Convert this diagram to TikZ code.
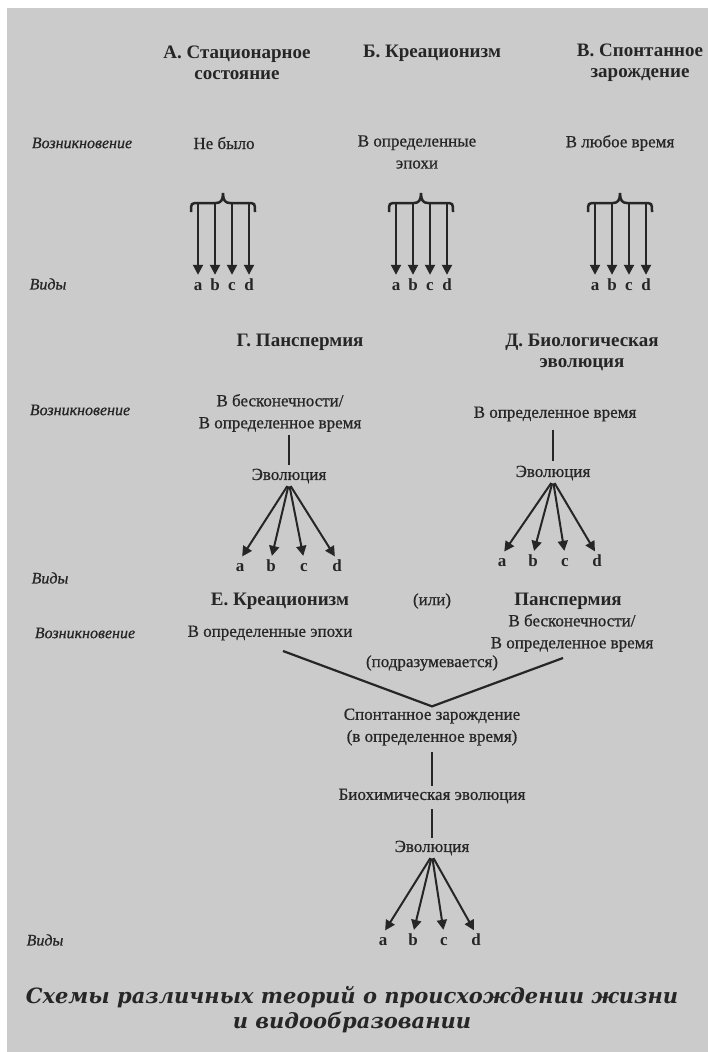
\documentclass[tikz,border=0pt]{standalone}
\usepackage{fontspec}
\setmainfont{Liberation Serif}
\newfontfamily\mymedfam[FakeBold=0.7]{Liberation Serif}
\newfontfamily\mycapfam{DejaVu Serif}
\usetikzlibrary{arrows.meta}
\definecolor{paper}{RGB}{203,203,203}
\definecolor{ink}{RGB}{38,38,38}
\newcommand\myhdr{\fontsize{19}{21}\selectfont\bfseries}
\newcommand\mytxt{\mymedfam\fontsize{17}{22}\selectfont}
\newcommand\myit{\mymedfam\fontsize{16}{18}\selectfont\itshape}
\newcommand\mylab{\fontsize{17}{18}\selectfont\bfseries}
\newcommand\mycap{\mycapfam\fontsize{21}{25}\selectfont\bfseries\itshape}
\tikzset{
  hdr/.style={font=\myhdr, text=ink, align=center, inner sep=0pt},
  txt/.style={font=\mytxt, text=ink, align=center, inner sep=0pt},
  itl/.style={font=\myit, text=ink, inner sep=0pt},
  lab/.style={font=\mylab, text=ink, inner sep=0pt, text height=11pt, text depth=0pt, anchor=base},
  arr/.style={draw=ink, line width=2pt, -{Triangle[length=10pt,width=10pt]}},
  ln/.style={draw=ink, line width=2.2pt},
  captxt/.style={font=\mycap, text=ink, align=center, inner sep=0pt},
}
\newcommand\mybrace[2]{%
  \draw[ln, line width=2.5pt] (#1-32,212) .. controls (#1-32,203) .. (#1-24,203) -- (#1-7,203)
     .. controls (#1-2,203) and (#1,200) .. (#1,193)
     .. controls (#1,200) and (#1+2,203) .. (#1+7,203) -- (#1+24,203)
     .. controls (#1+32,203) .. (#1+32,212);
  \node[lab] (#2a) at (#1-25,290) {a};
  \node[lab] (#2b) at (#1-8,290) {b};
  \node[lab] (#2c) at (#1+9,290) {c};
  \node[lab] (#2d) at (#1+26,290) {d};
  \coordinate (#2ta) at (#1-25,203);
  \coordinate (#2tb) at (#1-8,203);
  \coordinate (#2tc) at (#1+9,203);
  \coordinate (#2td) at (#1+26,203);
  \foreach \k in {a,b,c,d} {\draw[arr, shorten >=4pt] (#2t\k) -- (#2\k.north);}
}
\begin{document}
\begin{tikzpicture}[x=1pt,y=-1pt]
\useasboundingbox (0,0) rectangle (708,1052);
\fill[white] (0,0) rectangle (708,1052);
\fill[paper] (7,8) rectangle (708,1052);

% ---- top row ----
\node[hdr] (hA) at (237,63) {А. Стационарное\\состояние};
\node[hdr] (hB) at (432,53) {Б. Креационизм};
\node[hdr] (hC) at (640,63) {В. Спонтанное\\зарождение};

\node[itl] (v1) at (82,143) {Возникновение};
\node[txt] (oA) at (224,143) {Не было};
\node[txt] (oB) at (417,152) {В определенные\\эпохи};
\node[txt] (oC) at (620,143) {В любое время};

\mybrace{223}{A}
\mybrace{421}{B}
\mybrace{620}{C}

\node[itl] (s1) at (48,284) {Виды};

% ---- middle row ----
\node[hdr] (hD) at (300,342) {Г. Панспермия};
\node[hdr] (hE) at (582,352) {Д. Биологическая\\эволюция};

\node[itl] (v2) at (80,410) {Возникновение};
\node[txt] (oD) at (280,413) {В бесконечности/\\В определенное время};
\node[txt] (oE) at (555,414) {В определенное время};

\node[txt] (eD) at (289,476) {Эволюция};
\node[txt] (eE) at (553,473) {Эволюция};
\draw[ln, shorten <=3pt, shorten >=4pt] (eD.north |- oD.south) -- (eD.north);
\draw[ln, shorten <=8pt, shorten >=5pt] (eE.north |- oE.south) -- (eE.north);

\node[lab] (Da) at (240,571) {a};
\node[lab] (Db) at (271,571) {b};
\node[lab] (Dc) at (304,571) {c};
\node[lab] (Dd) at (337,571) {d};
\node[lab] (Ea) at (502,566) {a};
\node[lab] (Eb) at (533,566) {b};
\node[lab] (Ec) at (565,566) {c};
\node[lab] (Ed) at (597,566) {d};
\foreach \k in {a,b,c,d} {
  \draw[arr, shorten <=3pt, shorten >=4pt] (eD.south) -- (D\k.north);
  \draw[arr, shorten <=3pt, shorten >=4pt] (eE.south) -- (E\k.north);
}

\node[itl] (s2) at (50,578) {Виды};

% ---- bottom scheme ----
\node[hdr] (hF) at (280,601) {Е. Креационизм};
\node[txt] (ili) at (432,601) {(или)};
\node[hdr] (hG) at (568,601) {Панспермия};

\node[itl] (v3) at (85,633) {Возникновение};
\node[txt] (oF) at (270,633) {В определенные эпохи};
\node[txt] (oG) at (572,633) {В бесконечности/\\В определенное время};
\node[txt] (impl) at (432,663) {(подразумевается)};

\node[txt] (sp) at (432,727) {Спонтанное зарождение\\(в определенное время)};
\coordinate (vl) at (283,651);
\coordinate (vr) at (563,658);
\draw[ln] (vl) -- ([yshift=2pt]sp.north) -- (vr);

\node[txt] (bio) at (432,796) {Биохимическая эволюция};
\node[txt] (eF) at (432,848) {Эволюция};
\draw[ln, shorten <=6pt, shorten >=3pt] (sp.south) -- (bio.north);
\draw[ln, shorten <=6pt, shorten >=3pt] (bio.south) -- (eF.north);

\node[lab] (Fa) at (383,945) {a};
\node[lab] (Fb) at (413,945) {b};
\node[lab] (Fc) at (444,945) {c};
\node[lab] (Fd) at (476,945) {d};
\foreach \k in {a,b,c,d} {
  \draw[arr, shorten <=3pt, shorten >=4pt] (eF.south) -- (F\k.north);
}
\node[itl] (s3) at (45,940) {Виды};

% ---- caption ----
\node[captxt] (capt) at (352,1010) {Схемы различных теорий о происхождении жизни\\и видообразовании};
\end{tikzpicture}
\end{document}
